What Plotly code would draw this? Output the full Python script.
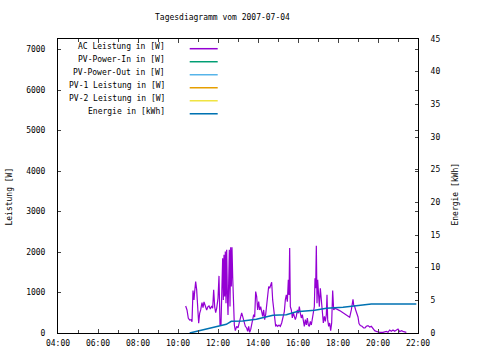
import plotly.graph_objects as go

DATE = "2007-07-04"

ac_times = ["10:23","10:27","10:31","10:35","10:39","10:42","10:45","10:48","10:50","10:53","10:56","10:59",
 "11:02","11:05","11:08","11:12","11:15","11:18","11:22","11:26","11:30","11:33","11:37","11:41","11:44","11:47",
 "11:50","11:53","11:56","12:00","12:03","12:06","12:09","12:12","12:14","12:16","12:18","12:20","12:22","12:24",
 "12:26","12:28","12:30","12:32","12:34","12:36","12:38","12:40","12:42","12:44","12:46","12:49","12:52","12:56",
 "13:00","13:04","13:08","13:11","13:14","13:18","13:22","13:26","13:29","13:32","13:35","13:38","13:41","13:44",
 "13:47","13:50","13:53","13:56","13:59","14:02","14:05","14:08","14:11","14:14","14:17","14:20","14:23","14:26",
 "14:29","14:32","14:35","14:38","14:41","14:44","14:47","14:50","14:53","14:56","14:59","15:03","15:07","15:11",
 "15:15","15:19","15:22","15:25","15:28","15:31","15:33","15:35","15:37","15:40","15:43","15:46","15:49","15:52",
 "15:55","15:58","16:01","16:04","16:07","16:10","16:13","16:16","16:19","16:22","16:25","16:28","16:31","16:34",
 "16:37","16:40","16:43","16:46","16:49","16:51","16:53","16:55","16:57","16:59","17:01","17:04","17:07","17:10",
 "17:13","17:16","17:19","17:22","17:25","17:27","17:29","17:32","17:35","17:38","17:41","17:44","17:47","17:51",
 "18:05","18:25","18:35","18:40","18:43","18:45","18:47","18:50","18:53","18:57","19:00","19:03","19:07","19:12",
 "19:17","19:21","19:25","19:30","19:35","19:40","19:45","19:50","19:55","20:00","20:05","20:15","20:25","20:30",
 "20:35","20:40","20:45","20:50","20:55","21:00","21:05","21:10","21:15","21:20","21:25"]

ac_power = [668,569,364,322,330,280,1047,817,1023,1270,1065,487,
 240,487,569,751,627,767,652,569,652,668,594,668,610,1065,
 652,503,610,857,1410,215,215,1766,1848,817,1930,900,2013,734,
 2055,982,446,1229,2055,652,2120,1147,2120,1394,652,198,58,165,
 124,289,454,495,412,289,165,124,41,165,17,83,248,330,
 454,396,1023,900,569,775,569,652,528,412,569,330,454,701,
 1065,1147,1106,1188,1254,817,569,487,165,198,165,198,165,248,
 371,528,817,941,775,1312,941,2096,652,569,371,503,412,330,
 412,569,487,652,487,371,454,248,165,330,198,371,198,165,
 289,198,371,454,652,1353,1106,2153,734,1312,941,652,1106,817,
 454,248,412,289,454,941,330,165,248,58,248,1048,569,610,
 553,446,388,569,775,833,693,652,569,454,396,231,182,165,
 124,124,165,182,149,165,99,58,41,25,17,17,41,17,
 74,41,74,41,74,99,33,58,41,25,17]

energy_times = ["10:35","11:00","11:30","12:00","12:25","12:40","13:14","13:55","14:20","14:45",
 "15:25","15:55","16:50","17:25","18:15","18:55","19:40","21:55"]
energy_kwh = [0.0,0.3,0.65,1.0,1.33,1.8,1.84,2.1,2.4,2.7,2.8,3.26,3.5,3.78,3.93,4.18,4.44,4.44]

legend_labels = ["AC Leistung in [W]", "PV-Power-In in [W]", "PV-Power-Out in [W]",
                 "PV-1 Leistung in [W]", "PV-2 Leistung in [W]", "Energie in [kWh]"]
legend_colors = ["#9400D3", "#009E73", "#56B4E9", "#E69F00", "#F0E442", "#0072B2"]

FONT = "DejaVu Sans Mono"

fig = go.Figure()
fig.add_trace(go.Scatter(x=[f"{DATE} {t}" for t in ac_times], y=ac_power, mode="lines",
                         line=dict(color=legend_colors[0], width=1.2), showlegend=False))
fig.add_trace(go.Scatter(x=[f"{DATE} {t}" for t in energy_times], y=energy_kwh, mode="lines",
                         line=dict(color=legend_colors[5], width=1.5), yaxis="y2", showlegend=False))

# plot area in pixels
L, R, T, B = 58.3, 418.3, 39.3, 333.0
W, H = R - L, B - T
def px(x): return (x - L) / W
def py(y): return (B - y) / H

anns = []
shapes = []
row_y = [47, 60, 73, 86, 99, 112]
for lab, col, yy in zip(legend_labels, legend_colors, row_y):
    anns.append(dict(x=px(167), y=py(yy), xref="paper", yref="paper", text=lab, showarrow=False,
                     xanchor="right", yanchor="middle", font=dict(family=FONT, size=8, color="black")))
    shapes.append(dict(type="line", xref="paper", yref="paper", x0=px(190), x1=px(218),
                       y0=py(yy + 2), y1=py(yy + 2), line=dict(color=col, width=1.5)))

anns.append(dict(x=px(223), y=py(18), xref="paper", yref="paper", text="Tagesdiagramm vom 2007-07-04",
                 showarrow=False, xanchor="center", yanchor="middle", font=dict(family=FONT, size=8, color="black")))
anns.append(dict(x=px(10), y=py(197), xref="paper", yref="paper", text="Leistung [W]", textangle=-90,
                 showarrow=False, xanchor="center", yanchor="middle", font=dict(family=FONT, size=8, color="black")))
anns.append(dict(x=px(456), y=py(194), xref="paper", yref="paper", text="Energie [kWh]", textangle=-90,
                 showarrow=False, xanchor="center", yanchor="middle", font=dict(family=FONT, size=8, color="black")))

fig.update_layout(
    width=480, height=360,
    margin=dict(l=58, r=62, t=39, b=27, autoexpand=False),
    paper_bgcolor="white", plot_bgcolor="white",
    font=dict(family=FONT, size=8, color="black"),
    annotations=anns, shapes=shapes,
    xaxis=dict(type="date", range=[f"{DATE} 04:00", f"{DATE} 22:00"], dtick=7200000,
               tick0=f"{DATE} 04:00", tickformat="%H:%M", ticks="inside", ticklen=4,
               showline=True, linecolor="black", linewidth=1, mirror="ticks", showgrid=False,
               zeroline=False, tickfont=dict(family=FONT, size=8), ticklabelstandoff=2,
               minor=dict(dtick=3600000, ticks="inside", ticklen=3, showgrid=False)),
    yaxis=dict(range=[0, 7260], dtick=1000, ticks="inside", ticklen=3, showline=True,
               linecolor="black", linewidth=1, mirror="ticks", showgrid=False, zeroline=False,
               tickfont=dict(family=FONT, size=8), ticklabelstandoff=10),
    yaxis2=dict(range=[0, 45], dtick=5, overlaying="y", side="right", ticks="inside", ticklen=3,
                showline=True, linecolor="black", linewidth=1, showgrid=False, zeroline=False,
                tickfont=dict(family=FONT, size=8), ticklabelstandoff=10),
)

fig.write_html("out.html", config={"displayModeBar": False},
               post_script="document.body.style.margin='0';document.body.style.padding='0';")
